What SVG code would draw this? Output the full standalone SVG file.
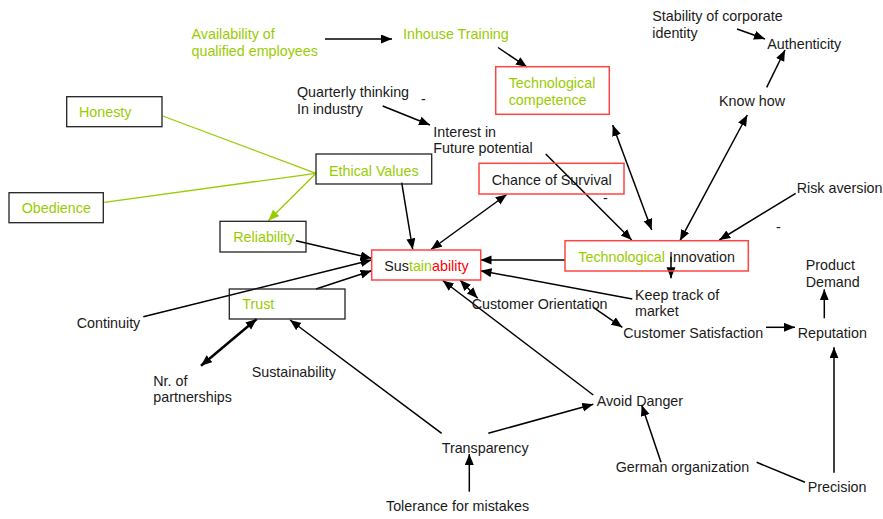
<svg xmlns="http://www.w3.org/2000/svg" width="883" height="519" viewBox="0 0 883 519">
<defs>
<marker id="ah" markerUnits="userSpaceOnUse" markerWidth="12" markerHeight="10" refX="11" refY="4.5" orient="auto-start-reverse">
<path d="M0,0 L11,4.5 L0,9 z" fill="#000"/>
</marker>
<marker id="ahg" markerUnits="userSpaceOnUse" markerWidth="12" markerHeight="10" refX="11" refY="4.5" orient="auto-start-reverse">
<path d="M0,0 L11,4.5 L0,9 z" fill="#99cc00"/>
</marker>
<style>
text{font-family:"Liberation Sans",Arial,sans-serif;font-size:14.3px;fill:#1a1a1a}
.g{fill:#99cc00}
.r{fill:#ff0000}
.bx{fill:none;stroke:#222;stroke-width:1.3}
.rb{fill:none;stroke:#ff4444;stroke-width:1.5}
.c line{stroke:#000;stroke-width:1.5}
.c .a{marker-end:url(#ah)}
.c .d{marker-start:url(#ah);marker-end:url(#ah)}
.c .gl{stroke:#99cc00;stroke-width:1.3}
</style>
</defs>
<rect width="883" height="519" fill="#fff"/>
<g id="connectors" class="c">
<line class="a" x1="325" y1="39" x2="392" y2="39"/>
<line class="a" x1="498" y1="47.5" x2="527" y2="67"/>
<line class="a" x1="737" y1="29" x2="765" y2="39"/>
<line class="a" x1="766.7" y1="87.3" x2="785" y2="50"/>
<line class="d" x1="747.3" y1="115" x2="680" y2="240.7"/>
<line class="d" x1="612.7" y1="125" x2="651.7" y2="230"/>
<line class="a" x1="545.7" y1="154" x2="631.7" y2="240"/>
<line class="a" x1="382.7" y1="106" x2="430" y2="125"/>
<line class="d" x1="506.7" y1="194.5" x2="431" y2="249.5"/>
<line class="a" x1="795.7" y1="193.3" x2="719.3" y2="240"/>
<line class="a" x1="671" y1="256.7" x2="671" y2="278.3"/>
<line class="a" x1="565" y1="260" x2="480.5" y2="260"/>
<line class="a" x1="632.3" y1="299" x2="480.5" y2="270.7"/>
<line class="a" x1="401.7" y1="182.7" x2="412.7" y2="249.5"/>
<line class="gl" x1="162.7" y1="116" x2="316" y2="173.3"/>
<line class="gl" x1="104.3" y1="202.3" x2="316" y2="173.3"/>
<line class="gl" x1="316" y1="173.3" x2="268.3" y2="220.7" marker-end="url(#ahg)"/>
<line class="a" x1="296" y1="240.7" x2="371.5" y2="258.3"/>
<line class="a" x1="143.3" y1="316.7" x2="371.5" y2="260"/>
<line class="a" x1="316" y1="289" x2="371.5" y2="270.7"/>
<line class="d" x1="256.7" y1="319" x2="201" y2="365.7" style="stroke-width:2.5"/>
<line class="a" x1="441.7" y1="433.3" x2="290" y2="320"/>
<line class="a" x1="469.3" y1="491.7" x2="469.3" y2="454"/>
<line class="a" x1="488.3" y1="433.3" x2="593.3" y2="404.3"/>
<line class="a" x1="593.3" y1="395" x2="442.7" y2="280.5"/>
<line class="d" x1="477.7" y1="298.3" x2="460" y2="280"/>
<line class="a" x1="593.3" y1="307.3" x2="622.3" y2="327.3"/>
<line class="a" x1="766" y1="327.3" x2="795" y2="327.3"/>
<line class="a" x1="824.3" y1="318.3" x2="824.3" y2="289.3"/>
<line class="a" x1="834" y1="472.7" x2="834" y2="347.3"/>
<line x1="756.7" y1="462.3" x2="805" y2="482.3"/>
<line class="a" x1="661" y1="462.3" x2="641.7" y2="405"/>
</g>
<g id="availability"><text class="g" x="191.5" y="39">Availability of</text><text class="g" x="191.5" y="56">qualified employees</text></g>
<g id="inhouse"><text class="g" x="403" y="39">Inhouse Training</text></g>
<g id="techcomp"><rect class="rb" x="495.7" y="66.7" width="113.6" height="47.6"/><text class="g" x="508.7" y="87.5">Technological</text><text class="g" x="508.7" y="104.5">competence</text></g>
<g id="stability"><text x="652.3" y="20.5">Stability of corporate</text><text x="652.3" y="37.5">identity</text></g>
<g id="authenticity"><text x="767.3" y="48.5">Authenticity</text></g>
<g id="knowhow"><text x="719" y="105.5">Know how</text></g>
<g id="quarterly"><text x="297" y="97">Quarterly thinking</text><text x="297" y="113.7">In industry</text><text x="421" y="104">-</text></g>
<g id="interest"><text x="433.3" y="136.5">Interest in</text><text x="433.3" y="153">Future potential</text></g>
<g id="chance"><rect class="rb" x="479" y="163.3" width="145" height="30.7"/><text x="491.7" y="185">Chance of Survival</text><text x="603" y="203">-</text></g>
<g id="risk"><text x="796.7" y="193">Risk aversion</text><text x="776" y="232">-</text></g>
<g id="techinno"><rect class="rb" x="565" y="240.7" width="183.3" height="30.3"/><text x="578.3" y="261.7"><tspan class="g">Technological </tspan>Innovation</text></g>
<g id="honesty"><rect class="bx" x="66.7" y="96.7" width="95.3" height="30"/><text class="g" x="79" y="117.3">Honesty</text></g>
<g id="ethical"><rect class="bx" x="316" y="154" width="115.7" height="30"/><text class="g" x="329" y="175.5">Ethical Values</text></g>
<g id="obedience"><rect class="bx" x="9" y="192.7" width="94.3" height="30"/><text class="g" x="21.7" y="213.3">Obedience</text></g>
<g id="reliability"><rect class="bx" x="220" y="221.3" width="86" height="30.7"/><text class="g" x="233.3" y="241.7">Reliability</text></g>
<g id="sustainability"><rect class="rb" x="371.7" y="250" width="109" height="30"/><text x="384.3" y="270.7">Sus<tspan class="g">tain</tspan><tspan class="r">ability</tspan></text></g>
<g id="trust"><rect class="bx" x="229.3" y="289" width="115.7" height="30"/><text class="g" x="242.3" y="309.3">Trust</text></g>
<g id="continuity"><text x="76.7" y="327.5">Continuity</text></g>
<g id="partnerships"><text x="153.3" y="385.7">Nr. of</text><text x="153.3" y="402.3">partnerships</text></g>
<g id="sustainability2"><text x="251.7" y="376.7">Sustainability</text></g>
<g id="keeptrack"><text x="635" y="299.5">Keep track of</text><text x="635" y="316">market</text></g>
<g id="custorient"><text x="471.7" y="308.5">Customer Orientation</text></g>
<g id="custsat"><text x="623.3" y="337.5">Customer Satisfaction</text></g>
<g id="reputation"><text x="797.7" y="337.5">Reputation</text></g>
<g id="product"><text x="805.7" y="270">Product</text><text x="805.7" y="287.3">Demand</text></g>
<g id="avoid"><text x="596.7" y="405.7">Avoid Danger</text></g>
<g id="transparency"><text x="441.7" y="452.5">Transparency</text></g>
<g id="tolerance"><text x="386" y="510.7">Tolerance for mistakes</text></g>
<g id="german"><text x="615.7" y="472.3">German organization</text></g>
<g id="precision"><text x="807.7" y="492.3">Precision</text></g>
</svg>
